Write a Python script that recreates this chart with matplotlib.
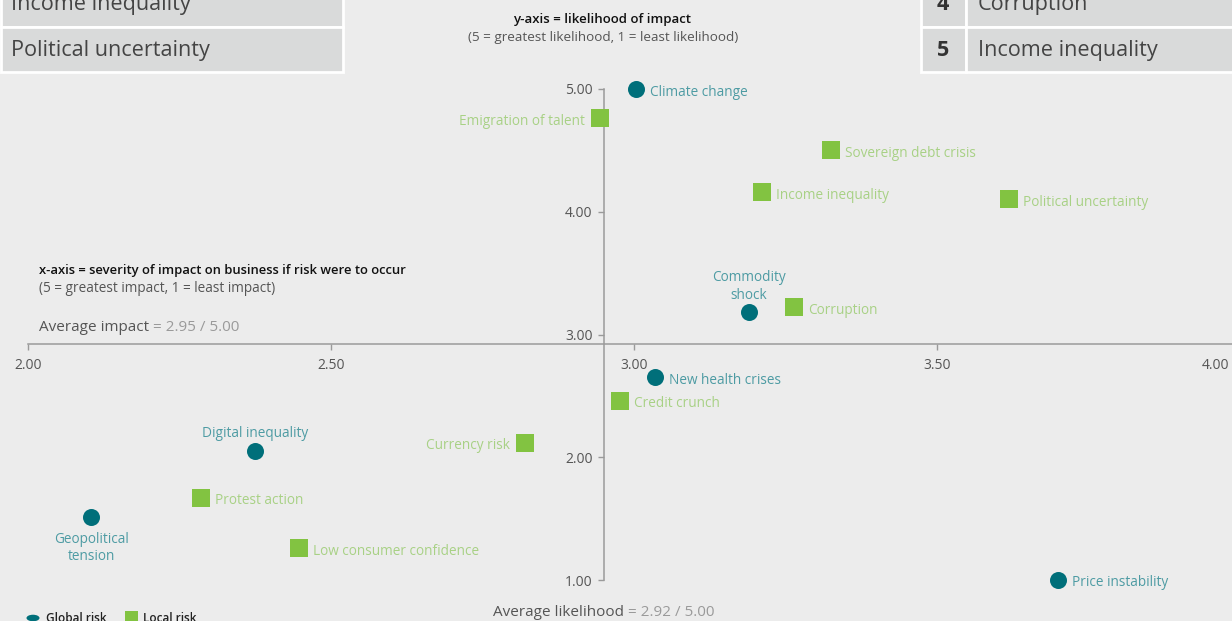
import matplotlib
matplotlib.use("Agg")
import matplotlib.pyplot as plt
from matplotlib.patches import Rectangle
from matplotlib.transforms import ScaledTranslation

plt.rcParams['font.family'] = ['Open Sans', 'DejaVu Sans']

# risk survey data: (impact, likelihood)
global_names = ["Climate change", "Commodity\nshock", "New health crises",
                "Digital inequality", "Geopolitical\ntension", "Price instability"]
global_x = [3.003, 3.19, 3.035, 2.375, 2.104, 3.70]
global_y = [5.00, 3.18, 2.65, 2.05, 1.51, 1.00]
global_side = ["r", "a", "r", "a", "b", "r"]

local_names = ["Emigration of talent", "Sovereign debt crisis", "Income inequality",
               "Political uncertainty", "Corruption", "Credit crunch", "Currency risk",
               "Protest action", "Low consumer confidence"]
local_x = [2.944, 3.325, 3.211, 3.619, 3.264, 2.977, 2.82, 2.285, 2.447]
local_y = [4.76, 4.50, 4.16, 4.10, 3.22, 2.46, 2.12, 1.67, 1.26]
local_side = ["l", "r", "r", "r", "r", "r", "l", "r", "r"]

avg_impact = 2.95
avg_likelihood = 2.92

x_ticks = [2.0, 2.5, 3.0, 3.5, 4.0]
y_ticks = [1.0, 2.0, 3.0, 4.0, 5.0]

left_rows = ["Income inequality", "Political uncertainty"]
right_ranks = ["4", "5"]
right_rows = ["Corruption", "Income inequality"]

BG = "#ececec"
TEAL = "#006f7a"
TEAL_TXT = "#4d9ba3"
GREEN = "#82c341"
GREEN_TXT = "#a8d185"
AXIS = "#9a9a9a"
W, H = 1232, 621

fig = plt.figure(figsize=(W / 100, H / 100), dpi=100, facecolor=BG)

# axes in pixel scale: 606 px per x unit, 122.75 px per y unit
XS, YS = 606.0, 122.75
ax = fig.add_axes([0, 0, 1260 / W, 1])
ax.set_facecolor(BG)
ax.set_xlim(2 - 28 / XS, 2 + 1232 / XS)
ax.set_ylim(5 - 532 / YS, 5 + 89 / YS)

for s in ["top", "right"]:
    ax.spines[s].set_visible(False)
ax.spines["left"].set_position(("data", avg_impact))
ax.spines["bottom"].set_position(("data", avg_likelihood))
ax.spines["left"].set_bounds(1.0, 5.0)
ax.spines["bottom"].set_bounds(2.0, 4.2)
for s in ["left", "bottom"]:
    ax.spines[s].set_color(AXIS)
    ax.spines[s].set_linewidth(1.1)

ax.set_xticks(x_ticks)
ax.set_xticklabels([f"{v:.2f}" for v in x_ticks])
ax.set_yticks(y_ticks)
ax.set_yticklabels([f"{v:.2f}" for v in y_ticks])
ax.tick_params(direction="out", length=4, width=1, color=AXIS,
               labelcolor="#555555", labelsize=10)
ax.tick_params(axis="x", pad=6)
ax.tick_params(axis="y", pad=4)

# last x label sits against the right edge
last = ax.get_xticklabels()[-1]
last.set_ha("right")
last.set_transform(last.get_transform() + ScaledTranslation(-11 / 100, 0, fig.dpi_scale_trans))

ax.scatter(global_x, global_y, s=150, marker="o", color=TEAL, zorder=3, linewidths=0)
ax.scatter(local_x, local_y, s=170, marker="s", color=GREEN, zorder=3, linewidths=0)

offsets = {"r": ((14, -3), "left", "center"),
           "l": ((-15, -3), "right", "center"),
           "a": ((0, 26), "center", "center"),
           "b": ((0, -31), "center", "center")}


def label_points(names, xs, ys, sides, color):
    for n, x, y, sd in zip(names, xs, ys, sides):
        off, ha, va = offsets[sd]
        if sd == "a" and "\n" not in n:
            off = (0, 18)
        ax.annotate(n, (x, y), xytext=off, textcoords="offset pixels",
                    ha=ha, va=va, color=color, fontsize=9.8,
                    linespacing=1.2, zorder=4)


label_points(global_names, global_x, global_y, global_side, TEAL_TXT)
label_points(local_names, local_x, local_y, local_side, GREEN_TXT)


def fx(px):
    return px / W


def fy(py):
    return 1 - py / H


# ranking tables at the top
def cell(x0, y0, x1, y1):
    fig.patches.append(Rectangle((fx(x0), fy(y1)), fx(x1) - fx(x0), fy(y0) - fy(y1),
                                 transform=fig.transFigure, facecolor="#d9dada",
                                 edgecolor="white", linewidth=2, zorder=1))


rows_y = [(-20, 27), (27, 72)]
for (y0, y1), txt in zip(rows_y, left_rows):
    cell(1, y0, 343, y1)
    fig.text(fx(11), fy((y0 + y1) / 2 + 1), txt, fontsize=15.6, color="#444444",
             va="center", ha="left")
for (y0, y1), rk, txt in zip(rows_y, right_ranks, right_rows):
    cell(921, y0, 966, y1)
    cell(966, y0, 1240, y1)
    fig.text(fx(943), fy((y0 + y1) / 2 + 1), rk, fontsize=15.6, color="#333333",
             va="center", ha="center", fontweight="bold")
    fig.text(fx(978), fy((y0 + y1) / 2 + 1), txt, fontsize=15.6, color="#444444",
             va="center", ha="left")

# axis descriptions
fig.text(fx(602), fy(20), "y-axis = likelihood of impact", fontsize=9.5,
         fontweight="semibold", color="#111111", ha="center", va="center")
fig.text(fx(603), fy(37), "(5 = greatest likelihood, 1 = least likelihood)",
         fontsize=9.7, color="#555555", ha="center", va="center")
fig.text(fx(39), fy(271), "x-axis = severity of impact on business if risk were to occur",
         fontsize=9.35, fontweight="semibold", color="#111111", ha="left", va="center")
fig.text(fx(39), fy(288), "(5 = greatest impact, 1 = least impact)",
         fontsize=9.8, color="#555555", ha="left", va="center")


def average_text(px, py, head, value):
    t = fig.text(fx(px), fy(py), head, fontsize=11, color="#555555",
                 ha="left", va="baseline")
    ax.annotate(f" = {value:.2f} / 5.00", xy=(1, 0), xycoords=t, fontsize=11,
                color="#9a9a9a", ha="left", va="bottom", annotation_clip=False)


average_text(39, 331, "Average impact", avg_impact)
average_text(493, 616, "Average likelihood", avg_likelihood)

# legend at the bottom
fig.patches.append(plt.Circle((fx(33), fy(618)), 6.5 / W, transform=fig.transFigure,
                              facecolor=TEAL, edgecolor="none"))
fig.text(fx(46), fy(618), "Global risk", fontsize=8.5, fontweight="semibold",
         color="#222222", ha="left", va="center")
fig.patches.append(Rectangle((fx(125), fy(624)), 13 / W, 13 / H,
                             transform=fig.transFigure, facecolor=GREEN, edgecolor="none"))
fig.text(fx(143), fy(618), "Local risk", fontsize=8.5, fontweight="semibold",
         color="#222222", ha="left", va="center")

fig.savefig("out.png", dpi=100, facecolor=BG)
